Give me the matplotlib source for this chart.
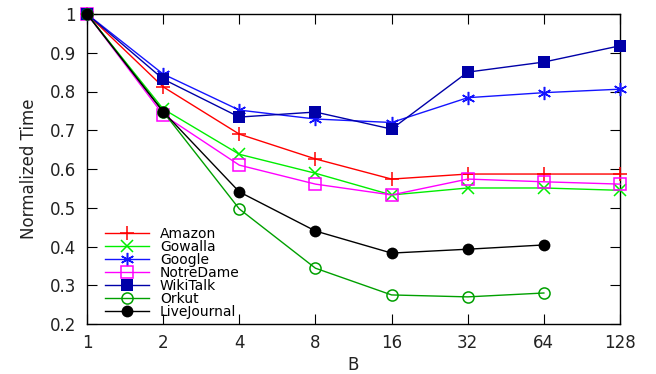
import matplotlib
matplotlib.use("Agg")
import matplotlib.pyplot as plt
from matplotlib.lines import Line2D

# Block sizes B and normalized run times per graph
B = [1, 2, 4, 8, 16, 32, 64, 128]
B_short = [1, 2, 4, 8, 16, 32, 64]

amazon = [1.0, 0.812, 0.690, 0.626, 0.574, 0.587, 0.587, 0.587]
gowalla = [1.0, 0.755, 0.638, 0.589, 0.533, 0.551, 0.551, 0.545]
google = [1.0, 0.845, 0.752, 0.729, 0.720, 0.784, 0.797, 0.806]
notredame = [1.0, 0.740, 0.610, 0.561, 0.533, 0.574, 0.567, 0.561]
wikitalk = [1.0, 0.832, 0.734, 0.747, 0.703, 0.850, 0.876, 0.918]
orkut = [1.0, 0.748, 0.497, 0.344, 0.275, 0.270, 0.280]
livejournal = [1.0, 0.748, 0.541, 0.440, 0.383, 0.393, 0.404]

y_ticks = [0.2, 0.3, 0.4, 0.5, 0.6, 0.7, 0.8, 0.9, 1.0]
y_tick_labels = ["0.2", "0.3", "0.4", "0.5", "0.6", "0.7", "0.8", "0.9", "1"]
x_tick_labels = ["1", "2", "4", "8", "16", "32", "64", "128"]

series = [
    ("Amazon", B, amazon, dict(color="#ff0000", marker="+", ms=9.5, mfc="none", mew=1.1)),
    ("Gowalla", B, gowalla, dict(color="#00ee00", marker="x", ms=8, mfc="none", mew=1.1)),
    ("Google", B, google, dict(color="#1414ff", marker=(6, 2, 0), ms=9.5, mfc="none", mew=1.1)),
    ("NotreDame", B, notredame, dict(color="#ff00ff", marker="s", ms=8, mfc="none", mew=1.1)),
    ("WikiTalk", B, wikitalk, dict(color="#0000a8", marker="s", ms=8.5, mew=0)),
    ("Orkut", B_short, orkut, dict(color="#00a000", marker="o", ms=8, mfc="none", mew=1.1)),
    ("LiveJournal", B_short, livejournal, dict(color="#000000", marker="o", ms=8.5, mew=0)),
]

fig = plt.figure(figsize=(6.56, 3.74), dpi=100)
ax = fig.add_axes([87 / 656, 1 - 324 / 374, (620 - 87) / 656, (324 - 14) / 374])

handles = []
for name, xs, ys, st in series:
    ax.plot(xs, ys, lw=1.0, clip_on=False, zorder=3, **st)
    handles.append(Line2D([], [], lw=1.0, label=name, **st))

ax.set_xscale("log", base=2)
ax.set_xlim(1, 128)
ax.set_ylim(0.2, 1.0)
ax.set_xticks(B)
ax.set_xticklabels(x_tick_labels)
ax.minorticks_off()
ax.set_yticks(y_ticks)
ax.set_yticklabels(y_tick_labels)
ax.tick_params(direction="in", length=7, width=0.8, top=True, right=True,
               labelsize=12, colors="#000000", labelcolor="#222222")
ax.tick_params(axis="y", pad=8)
ax.tick_params(axis="x", pad=7)
for sp in ax.spines.values():
    sp.set_linewidth(1.0)

ax.set_xlabel("B", fontsize=12, labelpad=3, color="#222222")
ax.set_ylabel("Normalized Time", fontsize=12, labelpad=8, color="#222222")

ax.legend(handles=handles, loc="lower left", bbox_to_anchor=(0.018, -0.01),
          frameon=False, fontsize=10, handlelength=3.2, handletextpad=0.75,
          labelspacing=-0.07, borderaxespad=0.2)

fig.savefig("out.png", dpi=100)
